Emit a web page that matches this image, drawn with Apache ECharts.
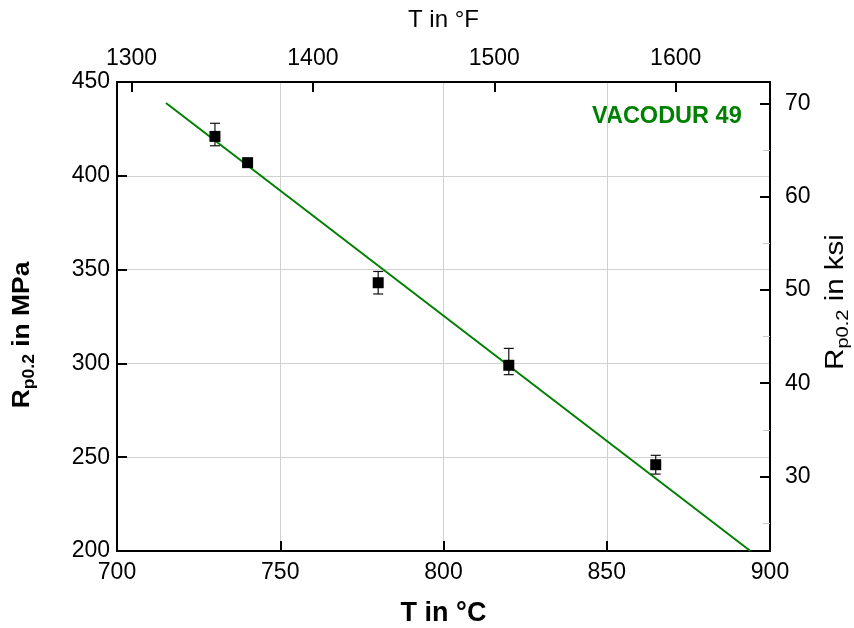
<!DOCTYPE html>
<html>
<head>
<meta charset="utf-8">
<script src="https://cdn.jsdelivr.net/npm/echarts@6/dist/echarts.min.js"></script>
<style>html,body{margin:0;padding:0;background:#fff}#c{width:854px;height:628px}</style>
</head>
<body>
<div id="c"></div>
<script>
// Data
var tempC = [730, 740, 780, 820, 865];
var rp02 = [421, 407, 343, 299, 246];
var errLow = [416, 405, 337, 294, 241];
var errHigh = [428, 409, 349, 308, 251];
var fitLineX = [715, 894];
var fitLineY = [438.8, 200];
var xTicksC = [700, 750, 800, 850, 900];
var topTicksF = [1300, 1400, 1500, 1600];
var leftTicks = [200, 250, 300, 350, 400, 450];
var rightTicks = [30, 40, 50, 60, 70];
var rightMinorTicks = [25, 35, 45, 55, 65];
var seriesLabel = 'VACODUR 49';

var FONT = 'Liberation Sans, Arial, sans-serif';
var chart = echarts.init(document.getElementById('c'));

var points = tempC.map(function (t, i) { return [t, rp02[i]]; });
var errData = tempC.map(function (t, i) { return [t, errLow[i], errHigh[i]]; });
var fitData = fitLineX.map(function (x, i) { return [x, fitLineY[i]]; });

var axisLineStyle = { color: '#000', width: 2 };
var labelStyle = { color: '#000', fontSize: 23, fontFamily: FONT, formatter: function (v) { return String(v); } };

chart.setOption({
  animation: false,
  backgroundColor: '#fff',
  grid: { left: 117, right: 84, top: 82, bottom: 77, containLabel: false, outerBoundsMode: 'none' },
  graphic: [{
    type: 'text', left: 592, top: 105,
    style: { text: seriesLabel, fill: '#008000', font: 'bold 23.5px ' + FONT }
  }, {
    type: 'text', x: 22, y: 335, rotation: Math.PI / 2, scaleX: 1.1,
    style: {
      text: '{b|R}{s|p0.2}{b| in MPa}', align: 'center', verticalAlign: 'middle',
      rich: {
        b: { fontSize: 24, fontWeight: 'bold', fontFamily: FONT, fill: '#000', lineHeight: 32, verticalAlign: 'middle' },
        s: { fontSize: 16, fontWeight: 'bold', fontFamily: FONT, fill: '#000', lineHeight: 32, verticalAlign: 'bottom' }
      }
    }
  }, {
    type: 'text', x: 836, y: 302, rotation: Math.PI / 2, scaleX: 1.18,
    style: {
      text: '{n|R}{s|p0.2}{n| in ksi}', align: 'center', verticalAlign: 'middle',
      rich: {
        n: { fontSize: 25, fontFamily: FONT, fill: '#000', lineHeight: 32, verticalAlign: 'middle' },
        s: { fontSize: 17, fontFamily: FONT, fill: '#000', lineHeight: 32, verticalAlign: 'bottom' }
      }
    }
  }],
  xAxis: [{
    type: 'value', position: 'bottom', min: xTicksC[0], max: xTicksC[xTicksC.length - 1], interval: 50,
    axisLine: { show: true, onZero: false, lineStyle: axisLineStyle },
    axisTick: { show: true, inside: true, length: 10, lineStyle: { color: '#000', width: 2 } },
    axisLabel: Object.assign({ margin: 10 }, labelStyle),
    splitLine: { show: true, lineStyle: { color: '#d0d0d0', width: 1 } },
    name: 'T in °C', nameLocation: 'middle', nameGap: 49,
    nameTextStyle: { color: '#000', fontSize: 27, fontWeight: 'bold', fontFamily: FONT }
  }, {
    type: 'value', position: 'top', min: 700 * 9 / 5 + 32, max: 900 * 9 / 5 + 32,
    axisLine: { show: true, onZero: false, lineStyle: axisLineStyle },
    axisTick: { show: true, inside: true, length: 10, customValues: topTicksF, lineStyle: { color: '#000', width: 2 } },
    axisLabel: Object.assign({ margin: 12, customValues: topTicksF }, labelStyle),
    splitLine: { show: false },
    name: 'T in °F', nameLocation: 'middle', nameGap: 50,
    nameTextStyle: { color: '#000', fontSize: 24, fontFamily: FONT }
  }],
  yAxis: [{
    type: 'value', position: 'left', min: leftTicks[0], max: leftTicks[leftTicks.length - 1], interval: 50,
    axisLine: { show: true, onZero: false, lineStyle: axisLineStyle },
    axisTick: { show: true, inside: true, length: 10, lineStyle: { color: '#000', width: 2 } },
    axisLabel: Object.assign({ margin: 7 }, labelStyle),
    splitLine: { show: true, lineStyle: { color: '#d0d0d0', width: 1 } }
  }, {
    type: 'value', position: 'right', min: 22, max: 72.3,
    axisLine: { show: true, onZero: false, lineStyle: axisLineStyle },
    axisTick: { show: true, inside: true, length: 10, customValues: rightTicks, lineStyle: { color: '#000', width: 2 } },
    axisLabel: Object.assign({ margin: 15, customValues: rightTicks }, labelStyle),
    splitLine: { show: false }
  }, {
    type: 'value', position: 'right', min: 22, max: 72.3,
    axisLine: { show: false },
    axisTick: { show: true, inside: true, length: 7, customValues: rightMinorTicks, lineStyle: { color: '#c8c8c8', width: 1 } },
    axisLabel: { show: false },
    splitLine: { show: false }
  }],
  series: [{
    type: 'line', xAxisIndex: 0, yAxisIndex: 0, data: fitData,
    showSymbol: false, symbol: 'none',
    lineStyle: { color: '#008000', width: 2 }, z: 3
  }, {
    type: 'custom', xAxisIndex: 0, yAxisIndex: 0, data: errData, z: 4,
    renderItem: function (params, api) {
      var lo = api.coord([api.value(0), api.value(1)]);
      var hi = api.coord([api.value(0), api.value(2)]);
      var hw = 5;
      var st = { stroke: '#111', lineWidth: 1.2, fill: null };
      return {
        type: 'group', children: [
          { type: 'line', shape: { x1: lo[0], y1: lo[1], x2: hi[0], y2: hi[1] }, style: st },
          { type: 'line', shape: { x1: lo[0] - hw, y1: lo[1], x2: lo[0] + hw, y2: lo[1] }, style: st },
          { type: 'line', shape: { x1: hi[0] - hw, y1: hi[1], x2: hi[0] + hw, y2: hi[1] }, style: st }
        ]
      };
    }
  }, {
    type: 'scatter', xAxisIndex: 0, yAxisIndex: 0, data: points,
    symbol: 'rect', symbolSize: 11, itemStyle: { color: '#000', opacity: 1 }, z: 5
  }]
});
</script>
</body>
</html>
